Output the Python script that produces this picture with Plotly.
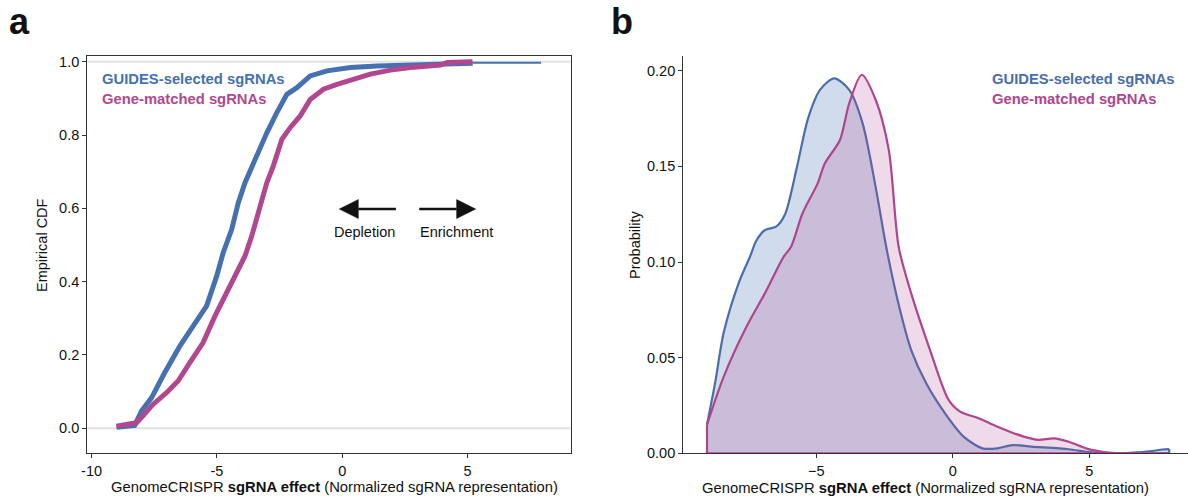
import plotly.graph_objects as go

# ---------------- data ----------------
# Panel a: empirical CDF of sgRNA effect
cdf_guides_x = [-9.0, -8.28, -8.01, -7.61, -7.08, -6.48, -5.95, -5.41, -5.01, -4.75, -4.41,
                -4.15, -3.88, -3.48, -3.01, -2.61, -2.21, -1.81, -1.28, -0.61, 0.32, 1.39,
                2.5, 3.65, 5.2]
cdf_guides_F = [0.003, 0.008, 0.047, 0.083, 0.152, 0.224, 0.279, 0.334, 0.415, 0.479, 0.543,
                0.615, 0.670, 0.734, 0.806, 0.861, 0.911, 0.929, 0.961, 0.975, 0.984, 0.988,
                0.991, 0.994, 0.996]
cdf_guides_tail_x = [5.2, 7.93]
cdf_guides_tail_F = [0.997, 0.997]

cdf_matched_x = [-9.01, -8.21, -7.95, -7.55, -7.01, -6.55, -6.08, -5.55, -5.08, -4.68, -4.21,
                 -3.88, -3.61, -3.35, -3.01, -2.75, -2.41, -2.08, -1.68, -1.28, -0.75, -0.21,
                 0.32, 1.12, 1.92, 2.72, 3.92, 4.19, 5.19]
cdf_matched_F = [0.006, 0.015, 0.034, 0.065, 0.097, 0.129, 0.179, 0.234, 0.306, 0.361, 0.424,
                 0.470, 0.525, 0.588, 0.670, 0.716, 0.788, 0.820, 0.852, 0.897, 0.925, 0.938,
                 0.950, 0.966, 0.977, 0.984, 0.991, 0.998, 1.0]

# Panel b: density of sgRNA effect
dens_guides_x = [-9.0, -8.7, -8.39, -7.84, -7.42, -7.2, -6.88, -6.47, -6.14, -5.7, -5.3,
                 -4.86, -4.34, -3.79, -3.30, -2.82, -2.41, -1.93, -1.52, -0.97, -0.28,
                 0.40, 1.09, 1.64, 2.19, 2.88, 4.25, 4.9, 5.5, 6.2, 6.72, 7.3, 7.68, 7.93]
dens_guides_y = [0.015, 0.037, 0.063, 0.089, 0.103, 0.111, 0.1167, 0.1185, 0.125, 0.150,
                 0.175, 0.190, 0.196, 0.190, 0.1725, 0.139, 0.106, 0.0749, 0.054, 0.0366, 0.0209,
                 0.0087, 0.0026, 0.0026, 0.0043, 0.0035, 0.0021, 0.0008, 0.0002, 0.0, 0.0005,
                 0.0012, 0.002, 0.0022]

dens_matched_x = [-9.0, -8.39, -7.56, -6.88, -6.19, -5.92, -5.50, -4.95, -4.68, -4.13, -3.79,
                  -3.33, -2.82, -2.34, -1.98, -1.52, -0.83, -0.15, 0.27, 0.95, 1.64, 2.60,
                  3.15, 3.70, 4.25, 4.94, 5.62, 6.17, 7.93]
dens_matched_y = [0.015, 0.040, 0.066, 0.0836, 0.1028, 0.108, 0.1255, 0.141, 0.1516, 0.1638,
                  0.183, 0.1979, 0.1847, 0.1585, 0.108, 0.0836, 0.054, 0.0279, 0.0218, 0.0183,
                  0.0139, 0.0087, 0.007, 0.0078, 0.006, 0.0023, 0.0005, 0.0, 0.0]

series_names = ["GUIDES-selected sgRNAs", "Gene-matched sgRNAs"]
cdf_yticks = [0.0, 0.2, 0.4, 0.6, 0.8, 1.0]
cdf_xticks = [-10, -5, 0, 5]
dens_yticks = [0.00, 0.05, 0.10, 0.15, 0.20]
dens_xticks = [-5, 0, 5]

# ---------------- styling ----------------
BLUE = "#4571B0"
PINK = "#B1488F"
BLUE_D = "#4A6EAC"
PINK_D = "#B0448D"
FONT = "Liberation Sans, Arial, Helvetica, sans-serif"
W, H = 1188, 500


def px(x):
    return x / W


def py(y):
    return 1 - y / H


fig = go.Figure()

# ---- panel a: ECDF ----
fig.add_trace(go.Scatter(x=cdf_guides_tail_x, y=cdf_guides_tail_F, mode="lines",
                         line=dict(color=BLUE, width=2), xaxis="x", yaxis="y",
                         showlegend=False, hoverinfo="skip"))
fig.add_trace(go.Scatter(x=cdf_guides_x, y=cdf_guides_F, mode="lines",
                         line=dict(color=BLUE, width=5), xaxis="x", yaxis="y",
                         name=series_names[0], showlegend=False))
fig.add_trace(go.Scatter(x=cdf_matched_x, y=cdf_matched_F, mode="lines",
                         line=dict(color=PINK, width=5), xaxis="x", yaxis="y",
                         name=series_names[1], showlegend=False))

# ---- panel b: densities ----
fig.add_trace(go.Scatter(x=dens_guides_x, y=dens_guides_y, mode="lines", fill="tozeroy",
                         fillcolor="rgba(69,113,176,0.25)",
                         line=dict(color=BLUE_D, width=2.2, shape="spline", smoothing=0.8),
                         xaxis="x2", yaxis="y2", name=series_names[0], showlegend=False))
fig.add_trace(go.Scatter(x=[dens_guides_x[-1], dens_guides_x[-1]], y=[dens_guides_y[-1], 0],
                         mode="lines", line=dict(color=BLUE_D, width=2.2),
                         xaxis="x2", yaxis="y2", showlegend=False, hoverinfo="skip"))
fig.add_trace(go.Scatter(x=dens_matched_x, y=dens_matched_y, mode="lines", fill="tozeroy",
                         fillcolor="rgba(177,72,143,0.2)",
                         line=dict(color=PINK_D, width=2.2, shape="spline", smoothing=0.8),
                         xaxis="x2", yaxis="y2", name=series_names[1], showlegend=False))
fig.add_trace(go.Scatter(x=[dens_matched_x[0], dens_matched_x[0], dens_matched_x[-1]],
                         y=[dens_matched_y[0], 0, 0],
                         mode="lines", line=dict(color=PINK_D, width=2.2),
                         xaxis="x2", yaxis="y2", showlegend=False, hoverinfo="skip"))

tickfont = dict(family=FONT, size=14.5, color="#111111")
AX = "#333333"
common = dict(ticks="outside", ticklen=4, tickwidth=1.2, tickcolor=AX,
              showline=True, linecolor=AX, linewidth=1.3,
              showgrid=False, zeroline=False, tickfont=tickfont, automargin=False)

fig.update_layout(
    template="none",
    width=W, height=H,
    margin=dict(l=0, r=0, t=0, b=0, pad=0, autoexpand=False),
    paper_bgcolor="white", plot_bgcolor="white",
    font=dict(family=FONT, color="#111111"),
    showlegend=False,
    xaxis=dict(domain=[px(87.3), px(570.7)], range=[-10.17, 9.11], anchor="y",
               tickvals=cdf_xticks, ticktext=[str(v) for v in cdf_xticks], mirror=True, **common),
    yaxis=dict(domain=[py(453.3), py(56)], range=[-0.0682, 1.0155], anchor="x",
               tickvals=cdf_yticks, ticktext=[f"{v:.1f}" for v in cdf_yticks], mirror=True, **common),
    xaxis2=dict(domain=[px(683.3), 1.0], range=[-9.868, 8.619], anchor="y2",
                tickvals=dens_xticks,
                ticktext=[f"\u2212{abs(v)}" if v < 0 else str(v) for v in dens_xticks],
                mirror=False, **common),
    yaxis2=dict(domain=[py(453.3), py(56)], range=[0, 0.2077], anchor="x2",
                tickvals=dens_yticks, ticktext=[f"{v:.2f}" for v in dens_yticks],
                mirror=False, **common),
)

# reference lines at 0 and 1 in panel a
for yv in (0.0, 1.0):
    fig.add_shape(type="line", xref="x domain", yref="y", x0=0, x1=1, y0=yv, y1=yv,
                  line=dict(color="#e2e2e2", width=2), layer="below")

# arrows (Depletion / Enrichment)
arrow_y = 0.598
head_len = 0.76
head_half = 0.026
arrows = [(2.14, -0.12), (3.07, 5.32)]  # (tail, tip)
for tail, tip in arrows:
    d = 1 if tip > tail else -1
    base = tip - d * head_len
    fig.add_shape(type="line", xref="x", yref="y", x0=tail, x1=base, y0=arrow_y, y1=arrow_y,
                  line=dict(color="#111111", width=2.6))
    fig.add_shape(type="path", xref="x", yref="y",
                  path=f"M {tip} {arrow_y} L {base} {arrow_y + head_half} L {base} {arrow_y - head_half} Z",
                  fillcolor="#111111", line=dict(color="#111111", width=0.5))

annots = []
annots.append(dict(x=0.905, y=0.536, xref="x", yref="y", text="Depletion", showarrow=False,
                   font=dict(family=FONT, size=14.5, color="#111111"), xanchor="center", yanchor="middle"))
annots.append(dict(x=4.56, y=0.536, xref="x", yref="y", text="Enrichment", showarrow=False,
                   font=dict(family=FONT, size=14.5, color="#111111"), xanchor="center", yanchor="middle"))

# in-plot legends
for (lx, colors) in ((100, (BLUE, PINK)), (990, (BLUE_D, PINK_D))):
    for i, (name, col) in enumerate(zip(series_names, colors)):
        annots.append(dict(x=px(lx), y=py(79 + 20 * i), xref="paper", yref="paper",
                           text=f"<b>{name}</b>", showarrow=False, xanchor="left", yanchor="middle",
                           font=dict(family=FONT, size=14.8, color=col)))

# panel letters
annots.append(dict(x=px(19), y=py(21), xref="paper", yref="paper", text="<b>a</b>", showarrow=False,
                   xanchor="center", yanchor="middle", font=dict(family=FONT, size=36, color="#111111")))
annots.append(dict(x=px(622), y=py(21), xref="paper", yref="paper", text="<b>b</b>", showarrow=False,
                   xanchor="center", yanchor="middle", font=dict(family=FONT, size=36, color="#111111")))

# axis titles
xtitle = "GenomeCRISPR <b>sgRNA effect</b> (Normalized sgRNA representation)"
annots.append(dict(x=px(334), y=py(487), xref="paper", yref="paper", text=xtitle, showarrow=False,
                   xanchor="center", yanchor="middle", font=dict(family=FONT, size=14.8, color="#111111")))
annots.append(dict(x=px(926), y=py(488), xref="paper", yref="paper", text=xtitle, showarrow=False,
                   xanchor="center", yanchor="middle", font=dict(family=FONT, size=14.8, color="#111111")))
annots.append(dict(x=px(42), y=py(245), xref="paper", yref="paper", text="Empirical CDF", showarrow=False,
                   textangle=-90, xanchor="center", yanchor="middle",
                   font=dict(family=FONT, size=14.5, color="#111111")))
annots.append(dict(x=px(635), y=py(245), xref="paper", yref="paper", text="Probability", showarrow=False,
                   textangle=-90, xanchor="center", yanchor="middle",
                   font=dict(family=FONT, size=14.5, color="#111111")))

fig.update_layout(annotations=annots)

fig.write_html("out.html")
